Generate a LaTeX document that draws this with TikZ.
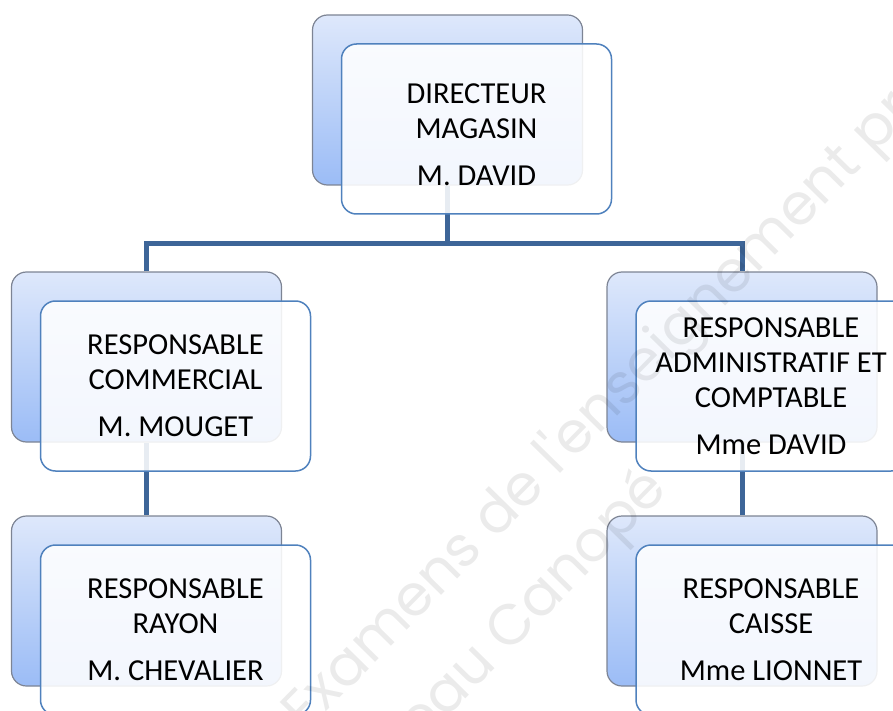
\documentclass[tikz,border=0pt]{standalone}
\usepackage{fontspec}
\setmainfont{Carlito}
\newfontfamily\wmfont{Poppins}
\usepackage{tikz}
\usetikzlibrary{calc}
\usetikzlibrary{backgrounds}
\definecolor{cardedge}{RGB}{79,129,189}
\definecolor{shadetop}{RGB}{222,232,251}
\definecolor{shadebot}{RGB}{155,188,246}
\definecolor{shadeedge}{RGB}{125,132,148}
\definecolor{linkblue}{RGB}{61,101,152}
\tikzset{
  backbox/.style={rectangle, rounded corners=15pt, minimum width=270pt, minimum height=170pt,
    inner sep=0pt, top color=shadetop, bottom color=shadebot, draw=shadeedge, line width=1.2pt},
  frontbox/.style={rectangle, rounded corners=15pt, minimum width=270pt, minimum height=170pt,
    inner sep=0pt, fill=white, fill opacity=0.88, draw=cardedge, line width=1.5pt},
  cardtext/.style={align=center, inner sep=0pt, font=\fontsize{30.5}{35}\selectfont},
  link/.style={draw=linkblue, line width=5pt},
  stamp/.style={text=black, opacity=0.08, font=\wmfont\fontsize{57}{57}\selectfont, rotate=45.5}
}
\newcommand{\poste}[5][0pt]{ \node[backbox] (#2B) at ( #3 , #4 ) {}; \node[frontbox] (#2F) at ([shift={(29,29)}]#2B.center) {}; \node[cardtext] (#2T) at ([yshift=#1]#2F.center) {#5};}

\begin{document}
\begin{tikzpicture}[x=1pt,y=-1pt]
\useasboundingbox (0,0) rectangle (893,711);
\clip (0,0) rectangle (893,711);
% top of the chart
\poste[-6pt]{dir}{447.5}{100}{DIRECTEUR\\MAGASIN\\[12pt]M. DAVID}
% second row
\poste{com}{146.5}{357}{RESPONSABLE\\COMMERCIAL\\[12pt]M. MOUGET}
\poste{adm}{742}{357}{RESPONSABLE\\ADMINISTRATIF ET\\COMPTABLE\\[12pt]Mme DAVID}
% third row
\poste{ray}{146.5}{601}{RESPONSABLE\\RAYON\\[12pt]M. CHEVALIER}
\poste{cai}{742}{601}{RESPONSABLE\\CAISSE\\[12pt]Mme LIONNET}
% links behind the boxes
\begin{scope}[on background layer]
\coordinate (bar) at ($(dirF.south)!0.5!(comB.north)$);
\draw[link] (dirB.south) -- (dirB.south |- bar);
\draw[link] (comB.north) |- (bar) -| (admB.north);
\draw[link] (comB.south) -- (rayB.north);
\draw[link] (admB.south) -- (caiB.north);
\end{scope}
% watermark
\node[stamp, anchor=base west] (wm1) at (303,736) {Examens de l'enseignement professionnel};
\node[stamp, anchor=base west] (wm2) at (348,818) {Réseau Canopé};
\end{tikzpicture}
\end{document}
